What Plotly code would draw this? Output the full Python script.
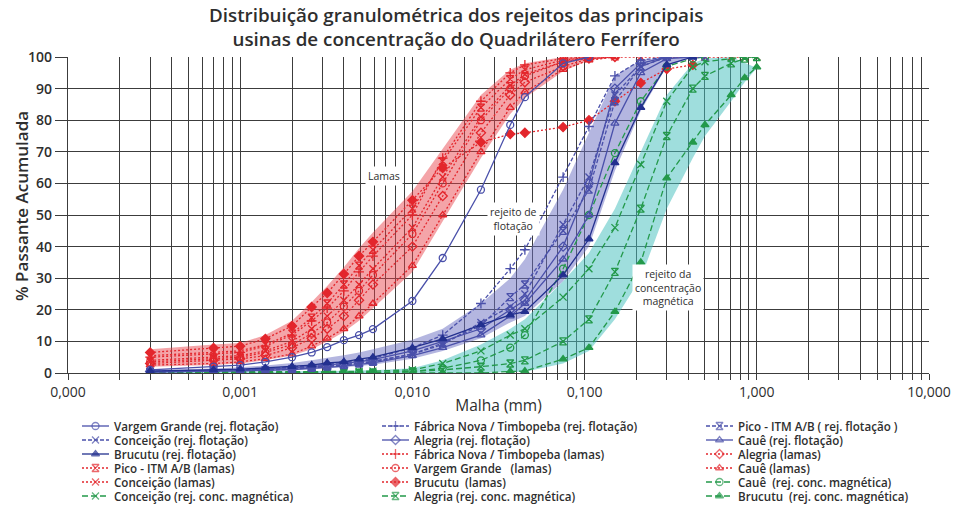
import math
import numpy as np
import plotly.graph_objects as go

# ---------------- data ----------------
# sieve / laser sizes (mm)
X = [0.0003, 0.0007, 0.001, 0.0014, 0.002, 0.0026, 0.0032, 0.004, 0.0049, 0.0059,
     0.01, 0.015, 0.025, 0.037, 0.045, 0.075, 0.106, 0.15, 0.212, 0.3,
     0.425, 0.5, 0.71, 0.85, 1.0]

# rejeito de flotação (% passante acumulada)
vg_flot = [1.0, 2.0, 2.5, 3.5, 5.0, 6.5, 8.2, 10.4, 12.0, 13.9, 22.8, 36.4, 58.0, 78.5, 87.3, 98.0, 100.0]
fn_flot = [0.5, 0.8, 1.0, 1.3, 1.8, 2.3, 2.8, 3.4, 4.0, 4.6, 8.0, 12.0, 22.0, 33.0, 39.0, 62.0, 78.0, 94.0, 99.0, 100.0]
pico_flot = [0.3, 0.5, 0.7, 0.9, 1.2, 1.6, 2.0, 2.5, 3.0, 3.5, 6.0, 9.5, 15.0, 24.0, 28.0, 45.0, 58.0, 86.0, 97.0, 100.0]
conceicao_flot = [0.4, 0.6, 0.8, 1.0, 1.4, 1.8, 2.2, 2.7, 3.2, 3.7, 6.0, 9.0, 16.0, 21.0, 25.0, 47.0, 62.0, 88.0, 97.0, 100.0, 100.0, 100.0]
alegria_flot = [0.5, 0.7, 0.9, 1.2, 1.6, 2.0, 2.5, 3.0, 3.6, 4.2, 7.0, 10.0, 14.0, 20.0, 23.0, 40.0, 60.0, 90.0, 98.0, 100.0]
caue_flot = [0.3, 0.5, 0.6, 0.8, 1.1, 1.4, 1.8, 2.2, 2.7, 3.2, 5.5, 8.0, 12.0, 18.0, 22.0, 36.0, 50.0, 79.0, 95.0, 99.5, 100.0]
brucutu_flot = [0.6, 1.0, 1.2, 1.6, 2.0, 2.5, 3.2, 3.5, 4.4, 5.0, 8.0, 10.8, 15.2, 18.4, 19.4, 31.0, 42.4, 66.5, 84.0, 97.5, 100.0]

# lamas
fn_lamas = [5.0, 6.0, 6.5, 8.5, 12.0, 16.5, 20.5, 26.0, 32.0, 37.0, 50.0, 68.0, 86.0, 95.0, 97.5, 99.5, 100.0]
alegria_lamas = [3.0, 4.0, 4.5, 5.5, 8.0, 11.0, 14.0, 18.0, 23.0, 28.0, 40.0, 56.0, 76.0, 88.0, 92.0, 97.0, 99.5, 100.0]
pico_lamas = [5.5, 6.5, 7.0, 9.0, 12.5, 17.5, 22.0, 28.0, 34.0, 39.0, 52.0, 67.0, 84.0, 93.0, 96.0, 99.0, 100.0]
vg_lamas = [3.5, 4.5, 5.0, 6.5, 9.0, 12.5, 16.0, 21.0, 26.0, 31.0, 44.0, 60.0, 80.0, 90.0, 94.0, 98.5, 100.0]
caue_lamas = [2.5, 3.0, 3.5, 4.5, 6.0, 8.5, 11.0, 14.0, 18.0, 22.0, 34.0, 50.0, 70.0, 84.0, 89.0, 96.0, 99.0, 100.0]
conceicao_lamas = [4.0, 5.0, 5.5, 7.0, 10.0, 14.0, 18.0, 23.0, 28.0, 33.0, 46.0, 62.0, 81.0, 91.0, 94.5, 98.5, 99.5,
                   100.0, 100.0, 100.0, 100.0, 100.0, 100.0, 100.0, 100.0]
brucutu_lamas = [6.5, 7.9, 8.5, 10.8, 14.9, 20.9, 25.3, 31.3, 37.0, 41.5, 54.7, 64.9, 73.0, 75.6, 76.0, 77.8, 80.0,
                 86.0, 91.8, 96.2, 97.5]

# rejeito da concentração magnética
caue_mag = [0.0, 0.0, 0.0, 0.0, 0.0, 0.0, 0.0, 0.0, 0.1, 0.2, 0.5, 1.5, 4.0, 8.0, 12.0, 33.0, 50.0, 69.6, 86.0, 97.0, 99.5, 100.0]
conceicao_mag = [0.3, 0.3, 0.3, 0.3, 0.3, 0.4, 0.4, 0.5, 0.5, 0.6, 1.0, 3.0, 7.0, 12.0, 14.0, 24.0, 33.0, 46.0, 66.0, 86.0,
                 97.0, 98.5, 99.5, 100.0, 100.0]
alegria_mag = [0.0, 0.0, 0.0, 0.0, 0.0, 0.0, 0.0, 0.0, 0.0, 0.0, 0.5, 1.0, 2.0, 3.0, 4.0, 10.0, 17.0, 32.0, 52.0, 75.0,
               90.0, 94.0, 98.0, 99.5, 100.0]
brucutu_mag = [0.0, 0.0, 0.0, 0.0, 0.0, 0.0, 0.0, 0.0, 0.0, 0.0, 0.0, 0.0, 0.0, 0.5, 0.6, 4.4, 8.0, 19.4, 35.0, 61.7,
               73.0, 78.5, 88.0, 93.4, 96.8]

# shaded envelopes
lamas_upper = [7.5, 9.0, 9.5, 12.0, 16.5, 22.5, 27.5, 33.5, 39.5, 44.5, 57.5, 71.0, 88.0, 96.0, 98.0, 100.0]
lamas_lower = [2.0, 2.5, 3.0, 4.0, 5.5, 7.5, 10.0, 13.0, 16.5, 20.5, 32.0, 48.0, 68.0, 82.0, 87.0, 95.5, 99.0, 100.0]
flot_upper = [1.0, 1.4, 1.8, 2.4, 3.2, 4.0, 4.8, 5.6, 6.5, 7.5, 10.5, 14.0, 22.0, 30.0, 36.0, 58.0, 76.0, 94.0, 99.0, 100.0]
flot_lower = [0.3, 0.4, 0.5, 0.7, 0.9, 1.2, 1.5, 1.8, 2.2, 2.6, 4.5, 7.0, 11.0, 16.0, 18.0, 29.0, 40.0, 64.0, 83.0, 97.0, 100.0]
mag_upper = [0.5, 0.5, 0.5, 0.5, 0.5, 0.6, 0.6, 0.7, 0.8, 0.9, 1.5, 4.0, 9.0, 14.0, 17.0, 29.0, 38.0, 52.0, 70.0, 88.0,
             98.0, 99.5, 100.0]
mag_lower = [0.0, 0.0, 0.0, 0.0, 0.0, 0.0, 0.0, 0.0, 0.0, 0.0, 0.0, 0.0, 0.0, 0.3, 0.4, 3.0, 7.0, 17.0, 30.0, 52.0,
             68.0, 75.0, 86.0, 92.0, 96.5]

x_tick_labels = ["0,000", "0,001", "0,010", "0,100", "1,000", "10,000"]
title_text = ("Distribuição granulométrica dos rejeitos das principais<br>"
              "usinas de concentração do Quadrilátero Ferrífero")
y_title = "% Passante Acumulada"
x_title = "Malha (mm)"

NB = "\u00a0"
# series in legend order (row by row, 3 columns)
series = [
    ("Vargem Grande (rej. flotação)", vg_flot, "flot", "circle-open", "solid"),
    ("Fábrica Nova / Timbopeba (rej. flotação)", fn_flot, "flot", "cross-thin-open", "4px,2px"),
    ("Pico - ITM A/B ( rej. flotação )", pico_flot, "flot", "hourglass-open", "4px,2px"),
    ("Conceição (rej. flotação)", conceicao_flot, "flot", "x-thin-open", "4px,2px"),
    ("Alegria (rej. flotação)", alegria_flot, "flot", "diamond-open", "solid"),
    ("Cauê (rej. flotação)", caue_flot, "flot", "triangle-up-open", "solid"),
    ("Brucutu (rej. flotação)", brucutu_flot, "flotdark", "triangle-up", "solid"),
    ("Fábrica Nova / Timbopeba (lamas)", fn_lamas, "lamas", "cross-thin-open", "2px,2px"),
    ("Alegria (lamas)", alegria_lamas, "lamas", "diamond-open", "2px,2px"),
    ("Pico - ITM A/B (lamas)", pico_lamas, "lamas", "hourglass-open", "2px,2px"),
    ("Vargem Grande" + NB * 3 + "(lamas)", vg_lamas, "lamas", "circle-open", "2px,2px"),
    ("Cauê (lamas)", caue_lamas, "lamas", "triangle-up-open", "2px,2px"),
    ("Conceição (lamas)", conceicao_lamas, "lamas", "x-thin-open", "2px,2px"),
    ("Brucutu" + NB * 2 + "(lamas)", brucutu_lamas, "lamas", "diamond", "2px,2px"),
    ("Cauê" + NB * 2 + "(rej. conc. magnética)", caue_mag, "mag", "circle-open", "6px,3px"),
    ("Conceição (rej. conc. magnética)", conceicao_mag, "mag", "x-thin-open", "6px,3px"),
    ("Alegria (rej. conc. magnética)", alegria_mag, "mag", "hourglass-open", "6px,3px"),
    ("Brucutu" + NB * 2 + "(rej. conc. magnética)", brucutu_mag, "mag", "triangle-up", "6px,3px"),
]

COLORS = {"flot": "#4a50aa", "flotdark": "#23308f", "lamas": "#e3262c", "mag": "#23994a"}
FONT = "Open Sans"
TXT = "#2e2e2e"

fig = go.Figure()

# shaded bands
bands = [
    (lamas_upper, lamas_lower, "rgba(233,65,73,0.48)"),
    (flot_upper, flot_lower, "rgba(105,109,193,0.5)"),
    (mag_upper, mag_lower, "rgba(70,192,190,0.52)"),
]
for up, lo, col in bands:
    xs = X[:len(up)] + X[:len(lo)][::-1]
    ys = up + lo[::-1]
    fig.add_trace(go.Scatter(x=xs, y=ys, fill="toself", fillcolor=col, mode="none",
                             hoverinfo="skip", showlegend=False))


def style(group, symbol, dash):
    c = COLORS[group]
    line = dict(color=c, width=1.3, dash=dash)
    marker = dict(symbol=symbol, size=7, color=c, line=dict(color=c, width=1.3))
    return line, marker


draw_order = [s for s in series if s[2] == "lamas"] + [s for s in series if s[2] == "mag"] + \
             [s for s in series if s[2] in ("flot", "flotdark")]
for name, vals, group, symbol, dash in draw_order:
    line, marker = style(group, symbol, dash)
    fig.add_trace(go.Scatter(x=X[:len(vals)], y=vals, mode="lines+markers", name=name,
                             line=line, marker=marker, showlegend=False))

H, W = 511, 967
mt, mb, ml, mr = 57, 8, 68, 38
plot_h = H - mt - mb
plot_w = W - ml - mr
ydom0 = (H - mb - 373) / plot_h


def px_x(px):
    return (px - ml) / plot_w


def px_y(py):
    return (H - mb - py) / plot_h


# custom legend (3 columns x 6 rows) drawn on an auxiliary pixel-like axis pair
col_x = [82, 382, 706]
row_y0, row_dy, key_len = 426, 14, 27
annotations = []
for i, (name, vals, group, symbol, dash) in enumerate(series):
    c, r = i % 3, i // 3
    x0 = col_x[c]
    y0 = row_y0 + r * row_dy
    line, marker = style(group, symbol, dash)
    marker = dict(marker)
    marker["size"] = [0, 7, 0]
    fig.add_trace(go.Scatter(x=[x0, x0 + key_len / 2, x0 + key_len], y=[y0, y0, y0],
                             mode="lines+markers", line=line, marker=marker,
                             xaxis="x2", yaxis="y2", showlegend=False, hoverinfo="skip"))
    annotations.append(dict(x=x0 + key_len + 3, y=y0, xref="x2", yref="y2", text=name,
                            showarrow=False, xanchor="left", yanchor="middle",
                            font=dict(family=FONT, size=11.6, color=TXT, weight=600)))

# in-plot labels
labels = [
    ("Lamas", 0.0068, 62.5),
    ("rejeito de<br>flotação", 0.0387, 48.7),
    ("rejeito da<br>concentração<br>magnética", 0.305, 27.0),
]
for text, xv, yv in labels:
    annotations.append(dict(x=math.log10(xv), y=yv, xref="x", yref="y", text=text, showarrow=False,
                            bgcolor="white", borderpad=2,
                            font=dict(family=FONT, size=10.5, color=TXT)))

# title (two lines)
annotations.append(dict(x=px_x(456), y=px_y(27), xref="paper", yref="paper",
                        xanchor="center", yanchor="middle", showarrow=False, text=title_text,
                        font=dict(family=FONT, size=18.8, color=TXT, weight=600)))
# y-axis title
annotations.append(dict(x=px_x(22), y=px_y(206), xref="paper", yref="paper", textangle=-90,
                        xanchor="center", yanchor="middle", showarrow=False, text=y_title,
                        font=dict(family=FONT, size=17, color=TXT, weight=600)))

# ticks: every 1..9 x 10^k, labels on decades
decades = [10.0 ** k for k in range(-4, 2)]
tickvals, ticktext = [], []
for k, d in enumerate(decades):
    tickvals.append(d)
    ticktext.append(x_tick_labels[k])
    if k < len(decades) - 1:
        for m in range(2, 10):
            tickvals.append(m * d)
            ticktext.append("")

GRID = "#3c3c3c"

fig.update_layout(
    width=W, height=H,
    margin=dict(t=mt, b=mb, l=ml, r=mr, autoexpand=False),
    paper_bgcolor="white", plot_bgcolor="white",
    font=dict(family=FONT, color=TXT),
    xaxis=dict(type="log", range=[-4, 1], domain=[0, 1], anchor="y", automargin=False,
               tickvals=tickvals, ticktext=ticktext, ticks="outside", ticklen=6,
               tickcolor=GRID, tickwidth=1.3,
               showgrid=True, gridcolor=GRID, gridwidth=1.4,
               showline=True, linecolor=GRID, linewidth=1.4, zeroline=False,
               tickfont=dict(family=FONT, size=14, color=TXT),
               title=dict(text=x_title, standoff=0,
                          font=dict(family=FONT, size=15.5, color=TXT))),
    yaxis=dict(range=[0, 100], dtick=10, domain=[ydom0, 1], anchor="x", automargin=False,
               ticks="outside", ticklen=12, tickcolor=GRID, tickwidth=1.3,
               showgrid=True, gridcolor=GRID, gridwidth=1.4,
               showline=True, linecolor=GRID, linewidth=1.4, zeroline=False,
               tickfont=dict(family=FONT, size=14, color=TXT, weight=600)),
    xaxis2=dict(domain=[0, 1], range=[ml, W - mr], anchor="y2", visible=False, fixedrange=True),
    yaxis2=dict(domain=[0, ydom0], range=[H - mb, H - mb - ydom0 * plot_h], anchor="x2",
                visible=False, fixedrange=True),
    annotations=annotations,
)

fig.write_html("out.html", config={"displayModeBar": False},
               post_script="document.body.style.margin='0';document.body.style.overflow='hidden';")
